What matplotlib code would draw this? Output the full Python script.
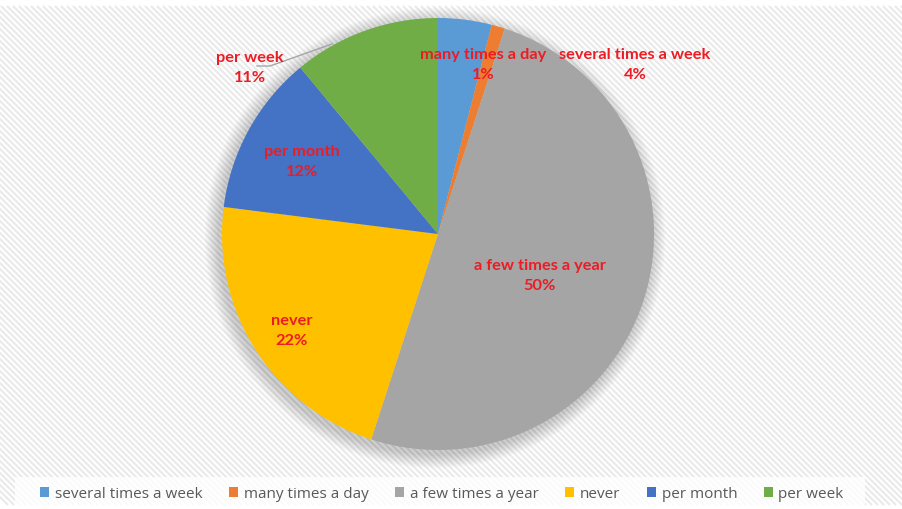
import numpy as np
import matplotlib
matplotlib.use("Agg")
import matplotlib.pyplot as plt
from matplotlib.collections import LineCollection
from matplotlib.patches import Circle, Rectangle

# Survey shares, clockwise from 12 o'clock
categories = ["several times a week", "many times a day", "a few times a year",
              "never", "per month", "per week"]
shares = [4, 1, 50, 22, 12, 11]
colors = ["#5B9BD5", "#ED7D31", "#A5A5A5", "#FFC000", "#4472C4", "#70AD47"]

W, H = 902, 510
fig = plt.figure(figsize=(W / 100, H / 100), dpi=100)
ax = fig.add_axes([0, 0, 1, 1])

def Y(y):
    # convert a top-down pixel row into the upward data axis
    return H - y

# chart area with diagonal striped fill
left, right, top, bottom = 8, 896, 7, 506
ax.add_patch(Rectangle((left, Y(bottom)), right - left, bottom - top,
                       facecolor="white", edgecolor="none", zorder=0))
segs = []
for c in np.arange(left - (bottom - top), right + 6, 6.0):
    x0, x1 = c, c + (bottom - top)
    segs.append([(x0, Y(top)), (x1, Y(bottom))])
stripes = LineCollection(segs, colors="#EAEAEA", linewidths=1.5, zorder=1)
clip = Rectangle((left, Y(bottom)), right - left, bottom - top, transform=ax.transData)
stripes.set_clip_path(clip)
ax.add_collection(stripes)

# plain band behind the legend
ax.add_patch(Rectangle((15, Y(508)), 850, 30, facecolor="white", edgecolor="none",
                       alpha=0.8, zorder=2))

cx, cy, r = 438, Y(235), 216

# soft shadow around the pie
for i in range(16):
    ax.add_patch(Circle((cx - 3, cy - 4), r + 1 + i * 0.9, facecolor="#000000",
                        edgecolor="none", alpha=0.013, zorder=3))

wedges, _ = ax.pie(shares, colors=colors, startangle=90, counterclock=False,
                   center=(cx, cy), radius=r, frame=True,
                   wedgeprops=dict(linewidth=0))
for w in wedges:
    w.set_zorder(4)
ax.set_xlim(0, W)
ax.set_ylim(0, H)
ax.axis("off")

# data labels
label_pos = [(635, 65), (483, 65), (540, 276), (292, 331), (302, 162), (250, 68)]
red = "#EC1C24"
for name, val, (lx, ly) in zip(categories, shares, label_pos):
    ax.text(lx, Y(ly), f"{name}\n{val}%", ha="center", va="center", color=red,
            fontsize=11.8, fontweight="bold", family="Lato", linespacing=1.5,
            zorder=6)

# leader line for the outside label
ax.plot([257, 270, 332], [Y(67), Y(67), Y(45)], color="#A6A6A6", lw=1.0, zorder=5)

# legend
handles = [Rectangle((0, 0), 1, 1, facecolor=c, edgecolor="none") for c in colors]
leg = fig.legend(handles, categories, loc="center", bbox_to_anchor=(442 / W, 1 - 495 / H),
                 ncol=6, frameon=False, handlelength=0.6, handleheight=0.6,
                 handletextpad=0.35, columnspacing=1.75, borderaxespad=0,
                 prop=dict(family="Open Sans", size=11))
for t in leg.get_texts():
    t.set_color("#595959")

fig.savefig("out.png", dpi=100)
